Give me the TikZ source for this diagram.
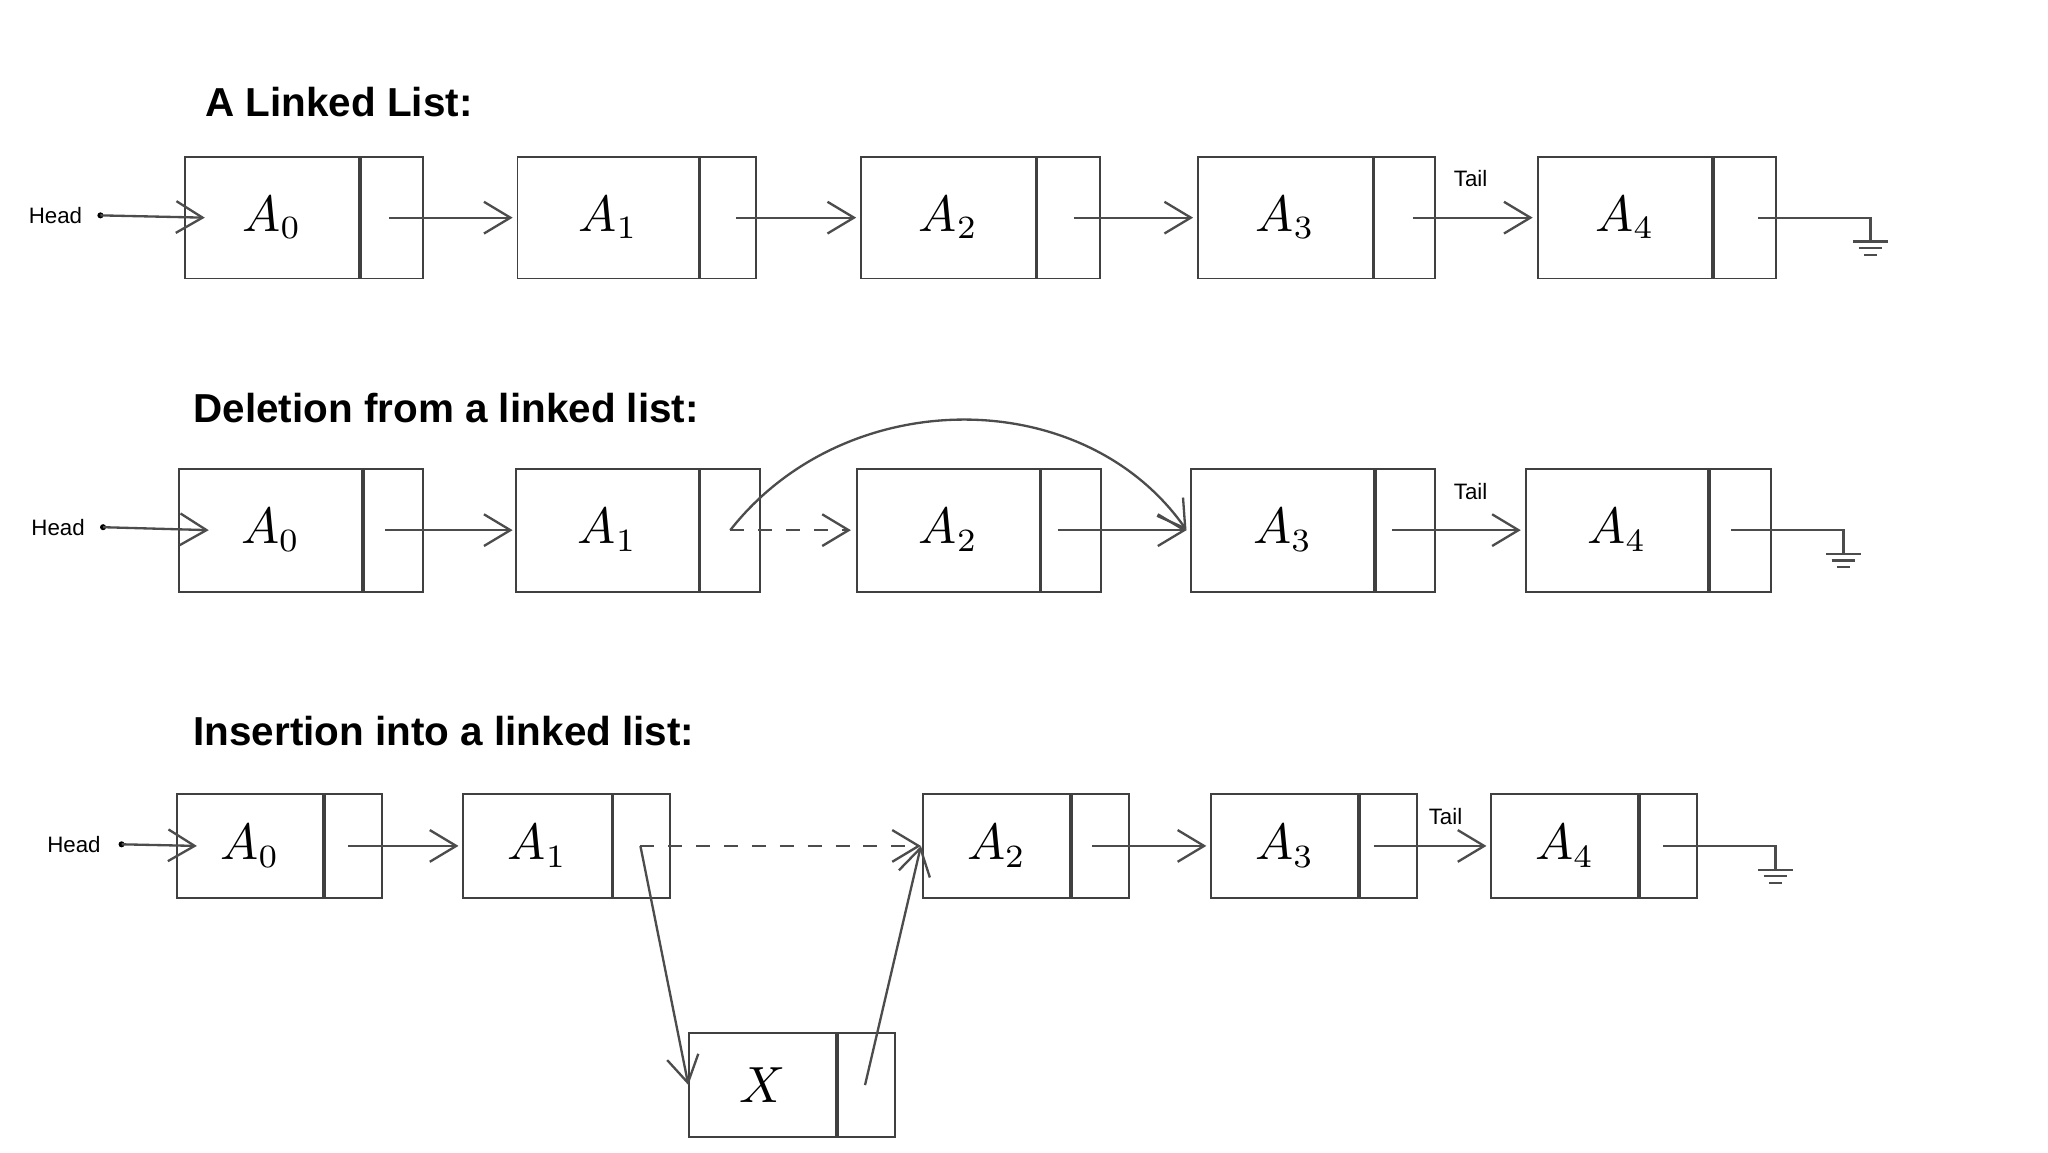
\documentclass[tikz,border=0pt]{standalone}
\usepackage{fontspec}
\setmainfont{Liberation Sans}
\usetikzlibrary{arrows.meta,calc}
\newcommand{\llcell}[6]{%
  \node[datbox,minimum width=#3mm,minimum height=#5mm,anchor=north west] (#1) at (#2) {#6};
  \node[ptrbox,minimum width=#4mm,minimum height=#5mm,anchor=north west] (#1p) at (#1.north east) {};}
\newcommand{\llground}[2]{%
  \draw[link] (#1) -- ++(85,0) coordinate (#2) -- ++(0,18);
  \draw[link] ($(#2)+(-13,18)$) -- ++(26,0);
  \draw[link] ($(#2)+(-9,23)$) -- ++(18,0);
  \draw[link] ($(#2)+(-5,28)$) -- ++(10,0);}
\tikzset{
  datbox/.style={draw=black!75,inner sep=0pt,font=\fontsize{10.5}{12}\selectfont},
  ptrbox/.style={draw=black!75,inner sep=0pt},
  link/.style={draw=black!70,line width=0.5pt},
  nxt/.style={link,-{Straight Barb[length=2mm,width=2.4mm]}},
  ttl/.style={font=\fontsize{8.7}{10}\selectfont\bfseries,anchor=west},
  lbl/.style={font=\fontsize{4.8}{6}\selectfont}
}
\begin{document}
\begin{tikzpicture}[x=0.01cm,y=-0.01cm]
  \useasboundingbox (0,0) rectangle (1550,872);

  % plain list
  \node[ttl] (t1) at (143,77) {A Linked List:};
  \llcell{pa}{139,118}{13.2}{4.7}{9.2}{$A_0$}
  \llcell{pb}{391,118}{13.7}{4.2}{9.2}{$A_1$}
  \llcell{pc}{651,118}{13.2}{4.7}{9.2}{$A_2$}
  \llcell{pd}{906,118}{13.2}{4.6}{9.2}{$A_3$}
  \llcell{pe}{1163,118}{13.2}{4.7}{9.2}{$A_4$}
  \node[lbl] (ph) at (42,163) {Head};
  \fill (76,163) circle (2.3) coordinate (phd);
  \draw[nxt] (phd) -- ($(pa.west)+(16,0)$);
  \draw[nxt] ($(pap.center)+(-2,0)$) -- ($(pb.west)+(-3,0)$);
  \draw[nxt] ($(pbp.center)+(6,0)$) -- ($(pc.west)+(-3,0)$);
  \draw[nxt] ($(pcp.center)+(4,0)$) -- ($(pd.west)+(-3,0)$);
  \draw[nxt] ($(pdp.center)+(6,0)$) -- ($(pe.west)+(-3,0)$);
  \node[lbl] (pt) at (1113,135) {Tail};
  \llground{$(pep.center)+(10,0)$}{pg}

  % deletion
  \node[ttl] (t2) at (134,309) {Deletion from a linked list:};
  \llcell{da}{135,354}{13.8}{4.5}{9.3}{$A_0$}
  \llcell{db}{390,354}{13.8}{4.5}{9.3}{$A_1$}
  \llcell{dc}{648,354}{13.8}{4.5}{9.3}{$A_2$}
  \llcell{dd}{901,354}{13.8}{4.5}{9.3}{$A_3$}
  \llcell{de}{1154,354}{13.8}{4.6}{9.3}{$A_4$}
  \node[lbl] (dh) at (44,399) {Head};
  \fill (78,399) circle (2.3) coordinate (dhd);
  \draw[nxt] (dhd) -- ($(da.west)+(23,0)$);
  \draw[nxt] ($(dap.center)+(-6,0)$) -- ($(db.west)+(-2,0)$);
  \draw[nxt,dashed] (dbp.center) -- ($(dc.west)+(-4,0)$);
  \draw[nxt] (dbp.center) .. controls (640,290) and (820,290) .. ($(dd.west)+(-3,0)$);
  \draw[nxt] ($(dcp.center)+(-10,0)$) -- ($(dd.west)+(-3,0)$);
  \draw[nxt] ($(ddp.center)+(-10,0)$) -- ($(de.west)+(-3,0)$);
  \node[lbl] (dt) at (1113,372) {Tail};
  \llground{$(dep.center)+(-7,0)$}{dg}

  % insertion
  \node[ttl] (t3) at (134,553) {Insertion into a linked list:};
  \llcell{ia}{133,600}{11.1}{4.3}{7.9}{$A_0$}
  \llcell{ib}{350,600}{11.2}{4.3}{7.9}{$A_1$}
  \llcell{ic}{698,600}{11.1}{4.3}{7.9}{$A_2$}
  \llcell{id}{916,600}{11.1}{4.3}{7.9}{$A_3$}
  \llcell{ie}{1128,600}{11.1}{4.3}{7.9}{$A_4$}
  \llcell{ix}{521,781}{11.1}{4.3}{7.9}{$X$}
  \node[lbl] (ih) at (56,639) {Head};
  \fill (92,639) circle (2.3) coordinate (ihd);
  \draw[nxt] (ihd) -- ($(ia.west)+(16,0)$);
  \draw[nxt] ($(iap.center)+(-4,0)$) -- ($(ib.west)+(-3,0)$);
  \draw[nxt,dashed] ($(ibp.center)+(-1,0)$) -- ($(ic.west)+(-1,0)$);
  \draw[nxt] ($(ibp.center)+(-1,0)$) -- (ix.west);
  \draw[nxt] ($(ixp.center)+(-1,0)$) -- ($(ic.west)+(-1,0)$);
  \draw[nxt] ($(icp.center)+(-6,0)$) -- ($(id.west)+(-3,0)$);
  \draw[nxt] ($(idp.center)+(-11,0)$) -- ($(ie.west)+(-3,0)$);
  \node[lbl] (it) at (1094,618) {Tail};
  \llground{$(iep.center)+(-4,0)$}{ig}
\end{tikzpicture}
\end{document}
